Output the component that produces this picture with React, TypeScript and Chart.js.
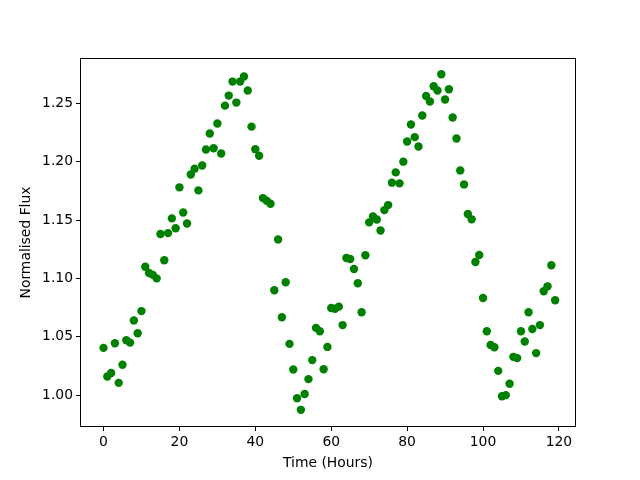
import React, { useEffect, useRef } from "react";
import { Chart, registerables } from "chart.js";

Chart.register(...registerables);

const hours: number[] = Array.from({ length: 120 }, (_, i) => i);

const flux: number[] = [
  1.0405, 1.016, 1.019, 1.0445, 1.0105, 1.026, 1.047, 1.045, 1.064, 1.053,
  1.072, 1.11, 1.1046, 1.103, 1.1, 1.138, 1.1155, 1.1388, 1.1514, 1.143,
  1.178, 1.1565, 1.147, 1.189, 1.194, 1.1754, 1.1967, 1.2104, 1.2241, 1.2115,
  1.2327, 1.207, 1.248, 1.2566, 1.2686, 1.2506, 1.2686, 1.2729, 1.261, 1.23,
  1.2107, 1.205, 1.1688, 1.1665, 1.164, 1.0898, 1.1334, 1.0667, 1.0967, 1.0439,
  1.022, 0.9974, 0.9874, 1.001, 1.0137, 1.03, 1.0576, 1.0547, 1.0222, 1.0413,
  1.0747, 1.074, 1.0758, 1.06, 1.1175, 1.1166, 1.108, 1.0958, 1.071, 1.1198,
  1.148, 1.153, 1.1505, 1.141, 1.1585, 1.1628, 1.182, 1.1908, 1.1814, 1.2,
  1.2173, 1.2318, 1.221, 1.213, 1.2395, 1.2563, 1.2515, 1.2646, 1.261, 1.2749,
  1.2532, 1.262, 1.2378, 1.2198, 1.1925, 1.1805, 1.1551, 1.1506, 1.114, 1.12,
  1.0832, 1.0547, 1.043, 1.041, 1.0208, 0.9991, 1.0, 1.0097, 1.0328, 1.0317,
  1.0547, 1.046, 1.071, 1.0567, 1.036, 1.06, 1.089, 1.0932, 1.1112, 1.0813,
];

const xTicks: number[] = [0, 20, 40, 60, 80, 100, 120];
const yTicks: number[] = [1.0, 1.05, 1.1, 1.15, 1.2, 1.25];

const xLabel = "Time (Hours)";
const yLabel = "Normalised Flux";

const FONT = "'DejaVu Sans', sans-serif";

const boxPlugin = {
  id: "boxPlugin",
  afterDatasetsDraw(chart: any) {
    const { ctx, chartArea } = chart;
    ctx.save();
    ctx.strokeStyle = "#000";
    ctx.lineWidth = 1;
    ctx.strokeRect(
      Math.round(chartArea.left) + 0.5,
      Math.round(chartArea.top) + 0.5,
      Math.round(chartArea.right - chartArea.left) - 1,
      Math.round(chartArea.bottom - chartArea.top) - 1
    );
    ctx.restore();
  },
};

export default function App() {
  const ref = useRef<HTMLCanvasElement | null>(null);

  useEffect(() => {
    if (!ref.current) return;
    Chart.defaults.color = "#000";
    const data = hours.map((h, i) => ({ x: h, y: flux[i] }));
    const chart = new Chart(ref.current, {
      type: "scatter",
      data: {
        datasets: [
          {
            data,
            backgroundColor: "#008000",
            borderColor: "#008000",
            pointRadius: 4.2,
            pointHoverRadius: 4.2,
            borderWidth: 0,
          },
        ],
      },
      options: {
        animation: false,
        responsive: false,
        events: [],
        layout: { padding: { left: 0, right: 64, top: 58, bottom: 0 } },
        plugins: {
          legend: { display: false },
          tooltip: { enabled: false },
        },
        scales: {
          x: {
            type: "linear",
            min: -6.2,
            max: 124.5,
            afterFit: (scale: any) => {
              scale.height = 53;
            },
            afterBuildTicks: (scale: any) => {
              scale.ticks = xTicks.map((v) => ({ value: v }));
            },
            grid: {
              display: true,
              drawOnChartArea: false,
              drawTicks: true,
              tickLength: 4,
              color: "#000",
            },
            border: { display: false },
            ticks: {
              padding: 3,
              color: "#000",
              font: { family: FONT, size: 13.9 },
              maxRotation: 0,
              callback: (v: any) => String(v),
            },
            title: {
              display: true,
              text: xLabel,
              color: "#000",
              font: { family: FONT, size: 13.9 },
              padding: { top: 0, bottom: 8 },
            },
          },
          y: {
            type: "linear",
            min: 0.9727,
            max: 1.2888,
            afterFit: (scale: any) => {
              scale.width = 80;
            },
            afterBuildTicks: (scale: any) => {
              scale.ticks = yTicks.map((v) => ({ value: v }));
            },
            grid: {
              display: true,
              drawOnChartArea: false,
              drawTicks: true,
              tickLength: 4,
              color: "#000",
            },
            border: { display: false },
            ticks: {
              padding: 3,
              color: "#000",
              font: { family: FONT, size: 13.9 },
              callback: (v: any) => Number(v).toFixed(2),
            },
            title: {
              display: true,
              text: yLabel,
              color: "#000",
              font: { family: FONT, size: 13.9 },
              padding: { top: 18, bottom: 0 },
            },
          },
        },
      },
      plugins: [boxPlugin],
    });
    return () => chart.destroy();
  }, []);

  return (
    <div style={{ position: "fixed", left: 0, top: 0, width: 640, height: 480, background: "#fff" }}>
      <canvas ref={ref} width={640} height={480} style={{ display: "block", width: 640, height: 480 }} />
    </div>
  );
}
